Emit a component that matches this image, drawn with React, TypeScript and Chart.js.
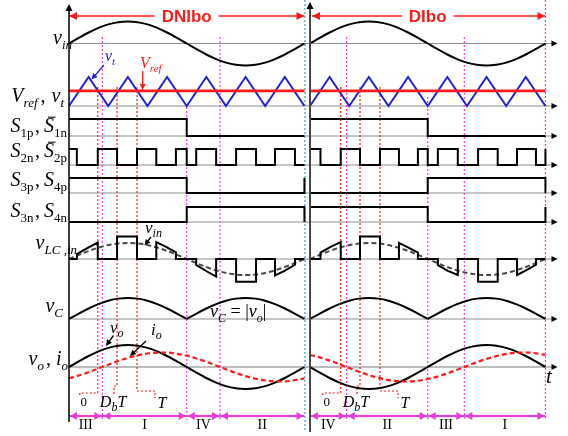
import React, { useEffect, useRef } from 'react';
import { Chart, registerables } from 'chart.js';

Chart.register(...registerables);

// ---------------- data (angles in electrical degrees within one grid period) ----------------
const PANEL_TITLES = ['DNIbo', 'DIbo'];
const MODE_NAMES = [['III', 'I', 'IV', 'II'], ['IV', 'II', 'III', 'I']];
const MODE_BOUNDS = [[0, 51, 180, 231, 360], [0, 56, 180, 236, 360]];

const SAMPLE_DEG = [0, 15, 30, 45, 60, 75, 90, 105, 120, 135, 150, 165, 180, 195, 210, 225, 240, 255, 270, 285, 300, 315, 330, 345, 360];
const VIN = [0, 0.26, 0.5, 0.71, 0.87, 0.97, 1, 0.97, 0.87, 0.71, 0.5, 0.26, 0, -0.26, -0.5, -0.71, -0.87, -0.97, -1, -0.97, -0.87, -0.71, -0.5, -0.26, 0];
const VC_HUMP_DEG = [0, 15, 30, 45, 60, 75, 90, 105, 120, 135, 150, 165, 180];
const VC_HUMP = [0, 0.26, 0.5, 0.71, 0.87, 0.97, 1, 0.97, 0.87, 0.71, 0.5, 0.26, 0];
const VO_DNIBO = [0, 0.26, 0.5, 0.71, 0.87, 0.97, 1, 0.97, 0.87, 0.71, 0.5, 0.26, 0, -0.26, -0.5, -0.71, -0.87, -0.97, -1, -0.97, -0.87, -0.71, -0.5, -0.26, 0];
const VO_DIBO = [0, -0.26, -0.5, -0.71, -0.87, -0.97, -1, -0.97, -0.87, -0.71, -0.5, -0.26, 0, 0.26, 0.5, 0.71, 0.87, 0.97, 1, 0.97, 0.87, 0.71, 0.5, 0.26, 0];
const IO_DNIBO = [-0.78, -0.59, -0.36, -0.1, 0.16, 0.41, 0.63, 0.81, 0.93, 0.99, 0.99, 0.91, 0.78, 0.59, 0.36, 0.1, -0.16, -0.41, -0.63, -0.81, -0.93, -0.99, -0.99, -0.91, -0.78];
const IO_DIBO = [0.83, 0.66, 0.44, 0.19, -0.07, -0.33, -0.56, -0.75, -0.9, -0.98, -1, -0.95, -0.83, -0.66, -0.44, -0.19, 0.07, 0.33, 0.56, 0.75, 0.9, 0.98, 1, 0.95, 0.83];

const TRI_DEG = [0, 30, 60, 90, 120, 150, 180, 210, 240, 270, 300, 330, 360];
const TRI = [0, 1, 0, 1, 0, 1, 0, 1, 0, 1, 0, 1, 0];
const VREF = 0.52;

// switching states: [angle where state starts, state]
const S1P = [[[0, 1], [180, 0], [360, 0]], [[0, 1], [180, 0], [360, 0]]];
const S2N = [
  [[0, 1], [12, 0], [44, 1], [73.5, 0], [104, 1], [133.5, 0], [163.5, 1], [180, 0], [194.5, 1], [225, 0], [255.5, 1], [286, 0], [315, 1], [345.5, 0], [360, 0]],
  [[0, 1], [16, 0], [47, 1], [76.5, 0], [107, 1], [136, 0], [165, 1], [180, 0], [195.5, 1], [226, 0], [257, 1], [287, 0], [316.5, 1], [345.5, 0], [360, 1]],
];
const S3P = [[[0, 1], [180, 0], [360, 1]], [[0, 0], [180, 1], [360, 0]]];
const S3N = [[[0, 0], [180, 1], [360, 0]], [[0, 1], [180, 0], [360, 1]]];

// v_LC,in pulses: [start, end, value at start, value at middle, value at end]
const VLC_PULSES = [
  [[12, 44, 0.3, 0.68, 1.03], [73.5, 104, 1.4, 1.4, 1.4], [133.5, 163.5, 1.05, 0.76, 0.42], [194.5, 225, -0.37, -0.75, -1.1], [255.5, 286, -1.42, -1.42, -1.42], [315, 345.5, -1.03, -0.73, -0.36]],
  [[16, 47, 0.4, 0.76, 1.06], [76.5, 107, 1.4, 1.4, 1.4], [136, 165, 1.01, 0.71, 0.4], [195.5, 226, -0.39, -0.74, -1.0], [257, 287, -1.42, -1.42, -1.42], [316.5, 345.5, -1.0, -0.7, -0.36]],
];

const MARK_DEG = [[44, 73.5, 104], [47, 76.5, 107]];
const MARK_LABELS = ['0', 'DbT', 'T'];

// ---------------- layout & style ----------------
const W = 568;
const H = 436;
const X0 = 69;
const K = 0.654; // px per degree
const PANEL_OFFSET = [0, 368.5];
const ARROW_TIP_PX = 557.5;
const ROWS: Record<string, { base: number; amp: number }> = {
  vin: { base: 43.5, amp: 22 },
  tri: { base: 106, amp: 29 },
  s1: { base: 136, amp: 17 },
  s2: { base: 165, amp: 16 },
  s3p: { base: 193, amp: 15 },
  s3n: { base: 222, amp: 15 },
  vlc: { base: 259, amp: 16 },
  vc: { base: 319, amp: 21 },
  vo: { base: 367, amp: 22 },
  io: { base: 367, amp: 14.5 },
};
const BASE_ROWS = ['vin', 'tri', 's1', 's2', 's3p', 's3n', 'vlc', 'vc', 'vo'];

const BLACK = '#000000';
const GRAY = '#8e8e8e';
const BLUE = '#1f22d8';
const RED = '#ff1a1a';
const MAGENTA = '#f03cf0';
const PINK = '#ec3ad8';
const CYAN = '#5fb3c8';
const SERIF = '"Liberation Serif", "Times New Roman", serif';
const SANS = '"Liberation Sans", Arial, sans-serif';

const X = (p: number, deg: number) => PANEL_OFFSET[p] + deg;
const degOfPx = (px: number) => (px - X0) / K;
const yv = (row: string, v: number) => ROWS[row].base - ROWS[row].amp * v;

function seg(points: { x: number; y: number }[], color: string, width: number, order: number, extra: any = {}) {
  return {
    data: points,
    borderColor: color,
    backgroundColor: color,
    borderWidth: width,
    pointRadius: 0,
    pointHoverRadius: 0,
    fill: false,
    tension: 0,
    order,
    ...extra,
  };
}

function buildDatasets() {
  const ds: any[] = [];
  const tipDeg = degOfPx(ARROW_TIP_PX - 3);
  BASE_ROWS.forEach((r) => {
    const isVo = r === 'vo';
    ds.push(seg([{ x: 0, y: ROWS[r].base }, { x: tipDeg, y: ROWS[r].base }], isVo ? '#bdbdbd' : GRAY, isVo ? 2 : 1, 40));
  });
  ds.push(seg([{ x: X(0, 0), y: 8 }, { x: X(0, 0), y: 422 }], BLACK, 1.5, 2));
  ds.push(seg([{ x: X(1, 0), y: 7 }, { x: X(1, 0), y: 432 }], '#474747', 2, 2));
  ds.push(seg([{ x: X(0, 360) + 0.8, y: 0 }, { x: X(0, 360) + 0.8, y: 432 }], CYAN, 1.5, 30, { borderDash: [2, 2] }));
  for (let p = 0; p < 2; p++) {
    const b = MODE_BOUNDS[p];
    [b[1], b[3]].forEach((d) => ds.push(seg([{ x: X(p, d), y: 37 }, { x: X(p, d), y: 420 }], MAGENTA, 1.2, 30, { borderDash: [2, 2] })));
    ds.push(seg([{ x: X(p, 180), y: p === 0 ? 107 : 97 }, { x: X(p, 180), y: 420 }], MAGENTA, 1.2, 30, { borderDash: [2, 2] }));
  }
  ds.push(seg([{ x: X(1, 360), y: 0 }, { x: X(1, 360), y: 420 }], MAGENTA, 1.2, 30, { borderDash: [2, 2] }));
  const LEAD = [
    { yb: 393, dx: -18, ye: 397 },
    { yb: 386, dx: -3, ye: 395 },
    { yb: 391, dx: 18, ye: 398 },
  ];
  for (let p = 0; p < 2; p++) {
    MARK_DEG[p].forEach((d, i) => {
      const L = LEAD[i];
      const x1 = X(p, d);
      const x2 = x1 + L.dx / K;
      ds.push(seg([{ x: x1, y: 87 }, { x: x1, y: L.yb }, { x: x2, y: L.yb }, { x: x2, y: L.ye }], RED, 1.2, 25, { borderDash: [2, 2] }));
    });
  }
  for (let p = 0; p < 2; p++) {
    ds.push(seg([{ x: X(p, 0) + (p === 1 ? 2 / K : 0), y: 16 }, { x: X(p, 360), y: 16 }], RED, 1.6, 10));
    ds.push(seg([{ x: X(p, 0), y: 416 }, { x: X(p, 360), y: 416 }], PINK, 1.8, 10));
  }
  for (let p = 0; p < 2; p++) {
    ds.push(seg(SAMPLE_DEG.map((d, i) => ({ x: X(p, d), y: yv('vin', VIN[i]) })), BLACK, 2, 5, { cubicInterpolationMode: 'monotone' }));
    ds.push(seg(TRI_DEG.map((d, i) => ({ x: X(p, d), y: yv('tri', TRI[i]) })), BLUE, 2, 6));
    ds.push(seg([{ x: X(p, 0), y: yv('tri', VREF) }, { x: X(p, 360), y: yv('tri', VREF) }], RED, 2.6, 4));
    const step = (row: string, arr: number[][]) =>
      ds.push(seg(arr.map(([d, s]) => ({ x: X(p, d), y: yv(row, s) })), BLACK, 2, 5, { stepped: 'before' }));
    step('s1', S1P[p]);
    step('s2', S2N[p]);
    step('s3p', S3P[p]);
    step('s3n', S3N[p]);
    ds.push(seg(SAMPLE_DEG.map((d, i) => ({ x: X(p, d), y: yv('vlc', VIN[i]) })), '#4a4a4a', 2, 7, { cubicInterpolationMode: 'monotone', borderDash: [5, 3] }));
    const base = ROWS.vlc.base;
    const pts: { x: number; y: number }[] = [{ x: X(p, 0), y: base }];
    VLC_PULSES[p].forEach(([a, b, v0, vm, v1]) => {
      pts.push({ x: X(p, a), y: base }, { x: X(p, a), y: yv('vlc', v0) }, { x: X(p, (a + b) / 2), y: yv('vlc', vm) }, { x: X(p, b), y: yv('vlc', v1) }, { x: X(p, b), y: base });
    });
    pts.push({ x: X(p, 360), y: base });
    ds.push(seg(pts, BLACK, 2, 5));
    [0, 180].forEach((off) => {
      ds.push(seg(VC_HUMP_DEG.map((d, i) => ({ x: X(p, d + off), y: yv('vc', VC_HUMP[i]) })), BLACK, 2, 5, { cubicInterpolationMode: 'monotone' }));
    });
    const vo = p === 0 ? VO_DNIBO : VO_DIBO;
    const io = p === 0 ? IO_DNIBO : IO_DIBO;
    ds.push(seg(SAMPLE_DEG.map((d, i) => ({ x: X(p, d), y: yv('vo', vo[i]) })), BLACK, 2, 5, { cubicInterpolationMode: 'monotone' }));
    ds.push(seg(SAMPLE_DEG.map((d, i) => ({ x: X(p, d), y: yv('io', io[i]) })), RED, 2.2, 4, { cubicInterpolationMode: 'monotone', borderDash: [5, 3] }));
  }
  return ds;
}

// ---------------- text helpers ----------------
type Run = { t: string; it?: boolean; sub?: boolean; bar?: boolean; pre?: number; post?: number };

function drawRich(ctx: CanvasRenderingContext2D, runs: Run[], x: number, y: number, size: number, subSize: number, color: string, align: 'left' | 'right' | 'center') {
  const fonts = runs.map((r) => `${r.it ? 'italic ' : ''}${r.sub ? subSize : size}px ${SERIF}`);
  const widths = runs.map((r, i) => {
    ctx.font = fonts[i];
    return ctx.measureText(r.t).width;
  });
  const total = widths.reduce((a, b, i) => a + b + (runs[i].pre || 0) + (runs[i].post || 0), 0);
  let cx = align === 'right' ? x - total : align === 'center' ? x - total / 2 : x;
  ctx.fillStyle = color;
  ctx.strokeStyle = color;
  ctx.textAlign = 'left';
  ctx.textBaseline = 'alphabetic';
  runs.forEach((r, i) => {
    cx += r.pre || 0;
    ctx.font = fonts[i];
    ctx.fillText(r.t, cx, y + (r.sub ? Math.round(size * 0.25) : 0));
    if (r.bar) {
      ctx.lineWidth = 1;
      ctx.beginPath();
      ctx.moveTo(cx + size * 0.2, y - size * 0.74);
      ctx.lineTo(cx + widths[i] + size * 0.08, y - size * 0.74);
      ctx.stroke();
    }
    cx += widths[i] + (r.post || 0);
  });
}

function head(ctx: CanvasRenderingContext2D, tx: number, ty: number, dx: number, dy: number, len: number, half: number, color: string) {
  const n = Math.hypot(dx, dy);
  const ux = dx / n;
  const uy = dy / n;
  const bx = tx - ux * len;
  const by = ty - uy * len;
  ctx.beginPath();
  ctx.moveTo(tx, ty);
  ctx.lineTo(bx - uy * half, by + ux * half);
  ctx.lineTo(bx + uy * half, by - ux * half);
  ctx.closePath();
  ctx.fillStyle = color;
  ctx.fill();
}

function arrow(ctx: CanvasRenderingContext2D, x1: number, y1: number, x2: number, y2: number, color: string) {
  ctx.strokeStyle = color;
  ctx.lineWidth = 1.3;
  ctx.setLineDash([]);
  ctx.beginPath();
  ctx.moveTo(x1, y1);
  ctx.lineTo(x2 - (x2 - x1) * 0.15, y2 - (y2 - y1) * 0.15);
  ctx.stroke();
  head(ctx, x2, y2, x2 - x1, y2 - y1, 6, 3, color);
}

const COMMA: Run = { t: ',', pre: 1.5, post: 4 };
const ROW_LABELS: { x: number; y: number; runs: Run[] }[] = [
  { x: 72, y: 44, runs: [{ t: 'v', it: true }, { t: 'in', it: true, sub: true }] },
  { x: 64, y: 102, runs: [{ t: 'V', it: true }, { t: 'ref', it: true, sub: true }, { t: ',', pre: 3, post: 6 }, { t: 'v', it: true }, { t: 't', it: true, sub: true }] },
  { x: 67, y: 132, runs: [{ t: 'S', it: true }, { t: '1p', sub: true }, COMMA, { t: 'S', it: true, bar: true }, { t: '1n', sub: true }] },
  { x: 67, y: 157, runs: [{ t: 'S', it: true }, { t: '2n', sub: true }, COMMA, { t: 'S', it: true, bar: true }, { t: '2p', sub: true }] },
  { x: 67, y: 186, runs: [{ t: 'S', it: true }, { t: '3p', sub: true }, COMMA, { t: 'S', it: true }, { t: '4p', sub: true }] },
  { x: 67, y: 217, runs: [{ t: 'S', it: true }, { t: '3n', sub: true }, COMMA, { t: 'S', it: true }, { t: '4n', sub: true }] },
  { x: 77, y: 249, runs: [{ t: 'v', it: true }, { t: 'LC ,in', it: true, sub: true }] },
  { x: 63, y: 312, runs: [{ t: 'v', it: true }, { t: 'C', it: true, sub: true }] },
  { x: 68, y: 365, runs: [{ t: 'v', it: true }, { t: 'o', it: true, sub: true }, { t: ',', pre: 2, post: 5 }, { t: 'i', it: true }, { t: 'o', it: true, sub: true }] },
];

const overlay = {
  id: 'overlay',
  afterDatasetsDraw(chart: any) {
    const ctx: CanvasRenderingContext2D = chart.ctx;
    const xs = chart.scales.x;
    const px = (v: number) => xs.getPixelForValue(v);
    ctx.save();
    ctx.setLineDash([]);
    head(ctx, px(X(0, 0)), 4, 0, -1, 7, 3.5, BLACK);
    head(ctx, px(X(1, 0)), 2, 0, -1, 7, 3.5, BLACK);
    BASE_ROWS.forEach((r) => head(ctx, ARROW_TIP_PX, ROWS[r].base, 1, 0, 6, 3, BLACK));
    for (let p = 0; p < 2; p++) {
      const a = px(X(p, 0)) + (p === 1 ? 2 : 0);
      const b = px(X(p, 360));
      head(ctx, a, 16, -1, 0, 8, 4, RED);
      head(ctx, b, 16, 1, 0, 8, 4, RED);
      ctx.font = `bold 17px ${SANS}`;
      const t = PANEL_TITLES[p];
      const w = ctx.measureText(t).width;
      const c = px(X(p, 180));
      ctx.fillStyle = '#ffffff';
      ctx.fillRect(c - w / 2 - 7, 6, w + 14, 20);
      ctx.fillStyle = RED;
      ctx.textAlign = 'center';
      ctx.textBaseline = 'middle';
      ctx.fillText(t, c, 17);
      const bnd = MODE_BOUNDS[p];
      for (let i = 0; i < 4; i++) {
        const l = px(X(p, bnd[i])) + 1;
        const r = px(X(p, bnd[i + 1])) - 1;
        head(ctx, l, 416, -1, 0, 7, 4, PINK);
        head(ctx, r, 416, 1, 0, 7, 4, PINK);
        ctx.fillStyle = BLACK;
        ctx.font = `14px ${SERIF}`;
        ctx.textAlign = 'center';
        ctx.textBaseline = 'alphabetic';
        ctx.fillText(MODE_NAMES[p][i], (l + r) / 2, 429);
      }
      const m = MARK_DEG[p];
      ctx.fillStyle = BLACK;
      ctx.font = `13px ${SERIF}`;
      ctx.textAlign = 'center';
      ctx.fillText(MARK_LABELS[0], px(X(p, m[0])) - 14, 406);
      drawRich(ctx, [{ t: 'D', it: true }, { t: 'b', it: true, sub: true }, { t: 'T', it: true }], px(X(p, m[1])) - 4, 407, 16, 12, BLACK, 'center');
      drawRich(ctx, [{ t: 'T', it: true }], px(X(p, m[2])) + 25, 408, 16, 12, BLACK, 'center');
    }
    ROW_LABELS.forEach((l) => drawRich(ctx, l.runs, l.x, l.y, 20, 13, BLACK, 'right'));
    drawRich(ctx, [{ t: 'v', it: true }, { t: 't', it: true, sub: true }], 105, 61, 16, 11, BLUE, 'left');
    arrow(ctx, 104, 65, 91.5, 79.5, BLUE);
    drawRich(ctx, [{ t: 'V', it: true }, { t: 'ref', it: true, sub: true }], 140, 68, 16, 11, RED, 'left');
    arrow(ctx, 142.7, 71, 142.7, 90, RED);
    drawRich(ctx, [{ t: 'v', it: true }, { t: 'in', it: true, sub: true }], 145, 233, 17, 12, BLACK, 'left');
    arrow(ctx, 151, 237, 144.5, 245.5, BLACK);
    drawRich(ctx, [{ t: 'v', it: true }, { t: 'o', it: true, sub: true }], 110, 333, 17, 12, BLACK, 'left');
    arrow(ctx, 113.5, 335.5, 106, 346, BLACK);
    drawRich(ctx, [{ t: 'i', it: true }, { t: 'o', it: true, sub: true }], 151, 335, 17, 12, BLACK, 'left');
    arrow(ctx, 146, 341, 130, 356, BLACK);
    drawRich(ctx, [{ t: 'v', it: true }, { t: 'C', it: true, sub: true }, { t: ' = |' }, { t: 'v', it: true }, { t: 'o', it: true, sub: true }, { t: '|' }], 210, 317, 18, 12, BLACK, 'left');
    drawRich(ctx, [{ t: 't', it: true }], 546, 383, 21, 13, BLACK, 'left');
    ctx.restore();
  },
};

export default function App() {
  const ref = useRef<HTMLCanvasElement | null>(null);
  useEffect(() => {
    document.body.style.margin = '0';
    if (!ref.current) return;
    const chart = new Chart(ref.current, {
      type: 'line',
      data: { datasets: buildDatasets() },
      options: {
        animation: false,
        responsive: false,
        devicePixelRatio: 1,
        events: [],
        layout: { padding: 0 },
        plugins: { legend: { display: false }, tooltip: { enabled: false }, title: { display: false } },
        scales: {
          x: { type: 'linear', min: -X0 / K, max: (W - X0) / K, display: false },
          y: { type: 'linear', min: 0, max: H, reverse: true, display: false },
        },
      } as any,
      plugins: [overlay as any],
    });
    return () => chart.destroy();
  }, []);
  return (
    <div style={{ width: W, height: H, background: '#fff' }}>
      <canvas ref={ref} width={W} height={H} style={{ display: 'block' }} />
    </div>
  );
}
